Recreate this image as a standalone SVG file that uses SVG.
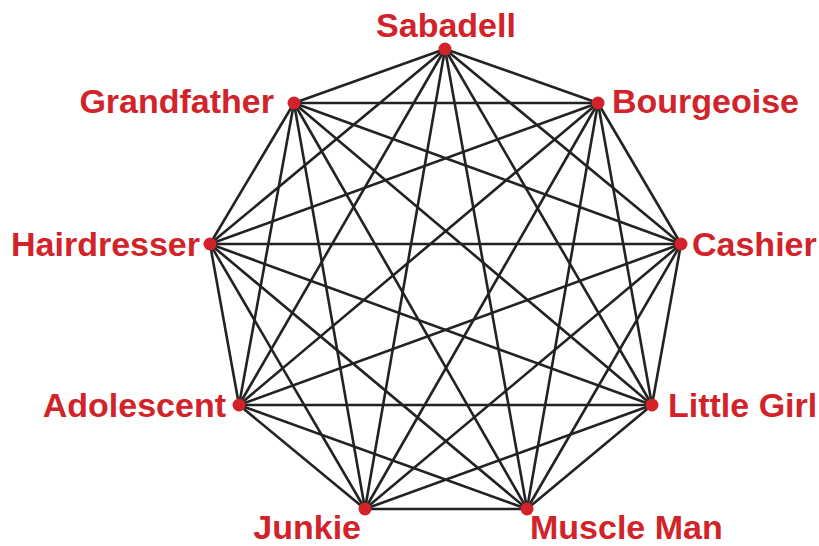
<svg xmlns="http://www.w3.org/2000/svg" width="819" height="546" viewBox="0 0 819 546">
<style>
.e{stroke:#222;stroke-width:2.6;fill:none}
.d{fill:#d2232a}
.t{font-family:"Liberation Sans",Arial,sans-serif;font-weight:bold;font-size:34px;fill:#d2232a}
</style>
<rect width="819" height="546" fill="#fff"/>
<g id="connectors" class="e">
<line x1="445" y1="49" x2="598" y2="103"/>
<line x1="445" y1="49" x2="681" y2="244"/>
<line x1="445" y1="49" x2="652" y2="405"/>
<line x1="445" y1="49" x2="527" y2="509"/>
<line x1="445" y1="49" x2="365" y2="509"/>
<line x1="445" y1="49" x2="239" y2="405"/>
<line x1="445" y1="49" x2="210" y2="244"/>
<line x1="445" y1="49" x2="294" y2="103"/>
<line x1="598" y1="103" x2="681" y2="244"/>
<line x1="598" y1="103" x2="652" y2="405"/>
<line x1="598" y1="103" x2="527" y2="509"/>
<line x1="598" y1="103" x2="365" y2="509"/>
<line x1="598" y1="103" x2="239" y2="405"/>
<line x1="598" y1="103" x2="210" y2="244"/>
<line x1="598" y1="103" x2="294" y2="103"/>
<line x1="681" y1="244" x2="652" y2="405"/>
<line x1="681" y1="244" x2="527" y2="509"/>
<line x1="681" y1="244" x2="365" y2="509"/>
<line x1="681" y1="244" x2="239" y2="405"/>
<line x1="681" y1="244" x2="210" y2="244"/>
<line x1="681" y1="244" x2="294" y2="103"/>
<line x1="652" y1="405" x2="527" y2="509"/>
<line x1="652" y1="405" x2="365" y2="509"/>
<line x1="652" y1="405" x2="239" y2="405"/>
<line x1="652" y1="405" x2="210" y2="244"/>
<line x1="652" y1="405" x2="294" y2="103"/>
<line x1="527" y1="509" x2="365" y2="509"/>
<line x1="527" y1="509" x2="239" y2="405"/>
<line x1="527" y1="509" x2="210" y2="244"/>
<line x1="527" y1="509" x2="294" y2="103"/>
<line x1="365" y1="509" x2="239" y2="405"/>
<line x1="365" y1="509" x2="210" y2="244"/>
<line x1="365" y1="509" x2="294" y2="103"/>
<line x1="239" y1="405" x2="210" y2="244"/>
<line x1="239" y1="405" x2="294" y2="103"/>
<line x1="210" y1="244" x2="294" y2="103"/>
</g>
<g id="sabadell"><circle class="d" cx="445" cy="49" r="6.5"/><text class="t" x="446" y="37" text-anchor="middle">Sabadell</text></g>
<g id="bourgeoise"><circle class="d" cx="598" cy="103" r="6.5"/><text class="t" x="612" y="113">Bourgeoise</text></g>
<g id="cashier"><circle class="d" cx="681" cy="244" r="6.5"/><text class="t" x="692" y="256">Cashier</text></g>
<g id="little-girl"><circle class="d" cx="652" cy="405" r="6.5"/><text class="t" x="668" y="417">Little Girl</text></g>
<g id="muscle-man"><circle class="d" cx="527" cy="509" r="6.5"/><text class="t" x="530" y="538.5">Muscle Man</text></g>
<g id="junkie"><circle class="d" cx="365" cy="509" r="6.5"/><text class="t" x="361" y="538.5" text-anchor="end">Junkie</text></g>
<g id="adolescent"><circle class="d" cx="239" cy="405" r="6.5"/><text class="t" x="226" y="417" text-anchor="end">Adolescent</text></g>
<g id="hairdresser"><circle class="d" cx="210" cy="244" r="6.5"/><text class="t" x="200" y="256" text-anchor="end">Hairdresser</text></g>
<g id="grandfather"><circle class="d" cx="294" cy="103" r="6.5"/><text class="t" x="274" y="113" text-anchor="end">Grandfather</text></g>
</svg>
